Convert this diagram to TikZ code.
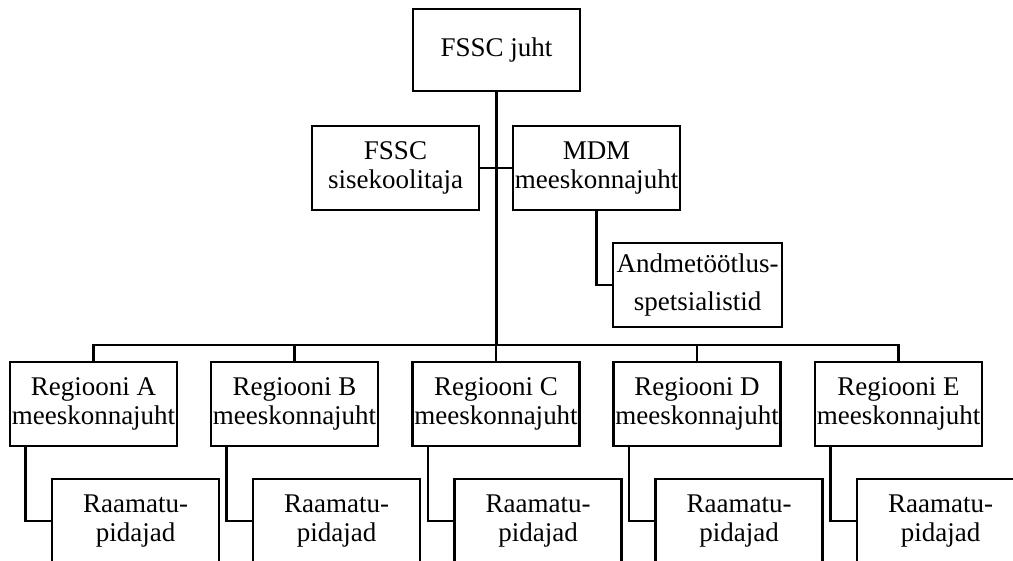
\documentclass[tikz,border=0pt]{standalone}
\usepackage{fontspec}
\setmainfont{Liberation Serif}

\tikzset{
  unit/.style={draw=black, line width=1.9pt, fill=white, align=center,
    minimum width=4.175cm, minimum height=2.1cm, inner xsep=0.5pt, inner ysep=2pt,
    font=\fontsize{19.2}{20.6}\selectfont},
  link/.style={black, line width=1.8pt},
  trunk/.style={black, line width=2.8pt}
}

\begin{document}
\begin{tikzpicture}[x=0.025cm, y=-0.025cm]
    \clip (0,0) rectangle (1013,560);
    \fill[white] (0,0) rectangle (1013,560);

    %%%% Top of the chart %%%%%%%%%%%%%%%%%%%%%%%%%%%%%%%%%%%%%%%%%%%%%%%%%%
    \node[unit, minimum height=2.05cm] (juht)     at (496.5,50)  {FSSC juht};
    \node[unit]                        (koolitaja) at (395.5,168) {FSSC\\sisekoolitaja};
    \node[unit]                        (mdm)       at (596.5,168) {MDM\\meeskonnajuht};
    \node[unit, minimum width=4.225cm,
          font=\fontsize{19.2}{26.6}\selectfont] (andmed) at (697.5,285) {Andmetöötlus-\\spetsialistid};

    \coordinate (bus) at (496.5,345);

    \draw[trunk] (juht.south) -- (bus);
    \draw[link] (koolitaja.east) -- (mdm.west);
    \draw[link] (mdm.south) |- (andmed.west);

    %%%% Regions %%%%%%%%%%%%%%%%%%%%%%%%%%%%%%%%%%%%%%%%%%%%%%%%%%%%%%%%%%
    \node[unit] (regA) at (93.5,404)  {Regiooni A\\meeskonnajuht};
    \node[unit] (regB) at (294.5,404) {Regiooni B\\meeskonnajuht};
    \node[unit] (regC) at (496,404)   {Regiooni C\\meeskonnajuht};
    \node[unit] (regD) at (697,404)   {Regiooni D\\meeskonnajuht};
    \node[unit] (regE) at (898.5,404) {Regiooni E\\meeskonnajuht};

    \draw[link] (regA.north) |- (bus) -| (regE.north);
    \draw[link] (regB.north) -- (regB.north |- bus);
    \draw[link] (regC.north) -- (regC.north |- bus);
    \draw[link] (regD.north) -- (regD.north |- bus);

    %%%% Bookkeepers %%%%%%%%%%%%%%%%%%%%%%%%%%%%%%%%%%%%%%%%%%%%%%%%%%%%%%
    \node[unit] (rpA) at (135.5,521) {Raamatu-\\pidajad};
    \node[unit] (rpB) at (336.5,521) {Raamatu-\\pidajad};
    \node[unit] (rpC) at (538,521)   {Raamatu-\\pidajad};
    \node[unit] (rpD) at (739,521)   {Raamatu-\\pidajad};
    \node[unit] (rpE) at (940.5,521) {Raamatu-\\pidajad};

    \draw[link] ([xshift=0.425cm]regA.south west) |- (rpA.west);
    \draw[link] ([xshift=0.425cm]regB.south west) |- (rpB.west);
    \draw[link] ([xshift=0.425cm]regC.south west) |- (rpC.west);
    \draw[link] ([xshift=0.425cm]regD.south west) |- (rpD.west);
    \draw[link] ([xshift=0.425cm]regE.south west) |- (rpE.west);
\end{tikzpicture}
\end{document}
